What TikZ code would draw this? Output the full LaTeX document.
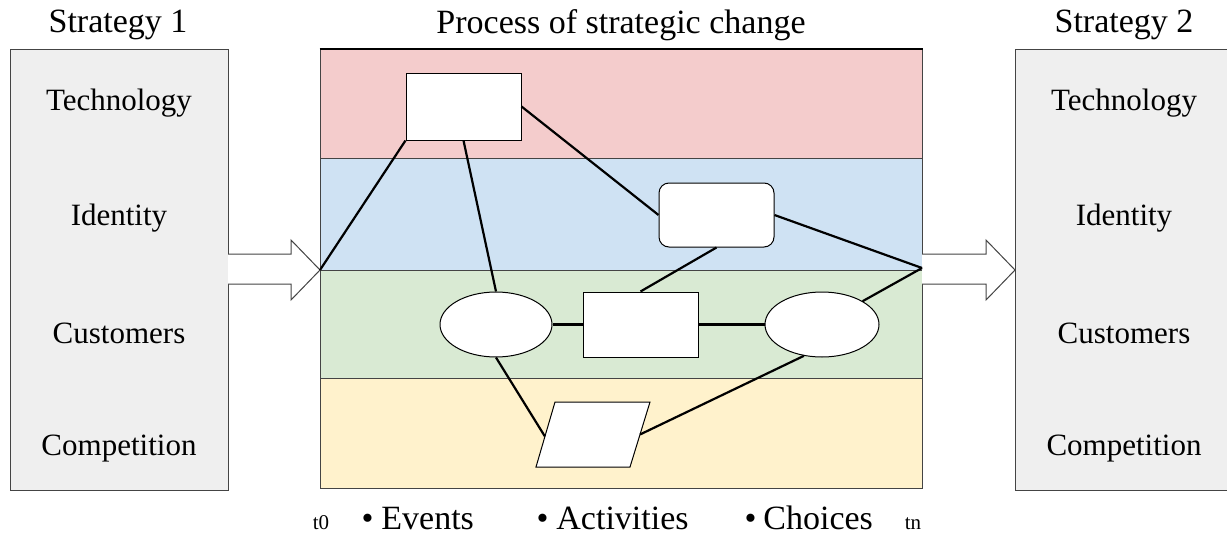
\documentclass[tikz,border=0pt]{standalone}
\usepackage{fontspec}
\setmainfont{Liberation Serif}
\usetikzlibrary{shapes.geometric,calc}
\definecolor{bandred}{HTML}{F4CCCC}
\definecolor{bandblue}{HTML}{CFE2F3}
\definecolor{bandgreen}{HTML}{D9EAD3}
\definecolor{bandyellow}{HTML}{FFF2CC}
\definecolor{boxgray}{HTML}{EFEFEF}
\definecolor{edgegray}{HTML}{444444}
\tikzset{
  stratbox/.style={draw=edgegray, line width=1pt, fill=boxgray, minimum width=218pt, minimum height=441pt, inner sep=0pt},
  band/.style={draw=edgegray, line width=1pt, minimum width=602pt, inner sep=0pt},
  item/.style={font=\fontsize{31}{36}\selectfont},
  title/.style={font=\fontsize{34}{40}\selectfont},
  legend/.style={font=\fontsize{34}{40}\selectfont, anchor=base west},
  tick/.style={font=\fontsize{21}{24}\selectfont, anchor=base},
  shapebox/.style={draw=black, line width=1pt, fill=white, inner sep=0pt},
  link/.style={draw=black, line width=2.2pt},
  bigarrow/.style={draw=edgegray, line width=1pt, fill=white},
}
\begin{document}
\begin{tikzpicture}[x=1pt,y=-1pt]
\useasboundingbox (0,0) rectangle (1227,536);
\fill[white] (0,0) rectangle (1227,536);
% strategy boxes
\node[stratbox] (s1) at (119,269.5) {};
\node[stratbox] (s2) at (1124,269.5) {};
\node[title] (t1) at (118,25) {Strategy 1};
\node[title] (t2) at (1124,25) {Strategy 2};
\node[title] (tp) at (621,25) {Process of strategic change};
\node[item] (a1) at (119,103) {Technology};
\node[item] (a2) at (119,218) {Identity};
\node[item] (a3) at (119,333) {Customers};
\node[item] (a4) at (119,449) {Competition};
\node[item] (b1) at (1124,103) {Technology};
\node[item] (b2) at (1124,218) {Identity};
\node[item] (b3) at (1124,333) {Customers};
\node[item] (b4) at (1124,449) {Competition};
% bands
\node[band, fill=bandred, minimum height=109pt] (band1) at (621,103.5) {};
\node[band, fill=bandblue, minimum height=112pt] (band2) at (621,214) {};
\node[band, fill=bandgreen, minimum height=108pt] (band3) at (621,324) {};
\node[band, fill=bandyellow, minimum height=110pt] (band4) at (621,433) {};
\draw[black, line width=2pt] (band1.north west) -- (band1.north east);
\coordinate (t0) at (320,270);
\coordinate (tn) at (922,268);
% big arrows
\draw[bigarrow] (228,254) -- (291,254) -- (291,240) -- (t0) -- (291,300) -- (291,284) -- (228,284);
\draw[bigarrow] (922,254) -- (986,254) -- (986,240) -- (1015,270) -- (986,300) -- (986,284) -- (922,284);
% shapes
\node[shapebox, minimum width=115pt, minimum height=67pt] (r1) at (463.5,106.5) {};
\node[shapebox, rounded corners=10pt, minimum width=115pt, minimum height=64pt] (r2) at (716.5,215) {};
\node[shapebox, ellipse, minimum width=112pt, minimum height=65pt] (e1) at (496,324.5) {};
\node[shapebox, minimum width=115pt, minimum height=65pt] (r3) at (640.5,324.5) {};
\node[shapebox, ellipse, minimum width=114pt, minimum height=65pt] (e2) at (822,324.5) {};
\draw[shapebox] (555,402) coordinate (pa) -- (650,402) coordinate (pb) -- (630,467) coordinate (pc) -- (536,467) coordinate (pd) -- cycle;
\coordinate (pl) at ($(pd)!0.47!(pa)$);
\coordinate (pr) at ($(pb)!0.5!(pc)$);
% connectors
\draw[link] (t0) -- (r1.south west);
\draw[link] (r1.south) -- (e1.north);
\draw[link] (r1.east) -- (r2.west);
\draw[link] (r2.east) -- (tn);
\draw[link] (r2.south) -- (r3.north);
\draw[link] (e1.east) -- (r3.west);
\draw[link] (r3.east) -- (e2.west);
\draw[link] (e2.north east) -- (tn);
\draw[link] (e1.south) -- (pl);
\draw[link] (pr) -- (e2.240);
% legend
\node[tick] (lt0) at (321,529) {t0};
\node[tick] (ltn) at (913,529) {tn};
\node[legend] (l1) at (358,529) {•\hspace{8pt}Events};
\node[legend] (l2) at (533,529) {•\hspace{8pt}Activities};
\node[legend] (l3) at (741,529) {•\hspace{7pt}Choices};
\end{tikzpicture}
\end{document}
